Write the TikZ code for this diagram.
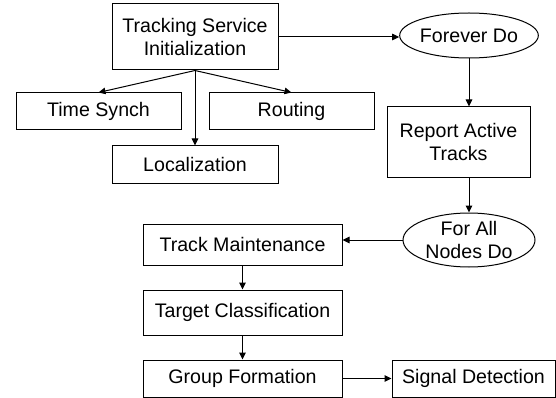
\documentclass[tikz,border=0pt]{standalone}
\usepackage{fontspec}
\setmainfont{Liberation Sans}
\usetikzlibrary{arrows.meta,shapes.geometric}
\begin{document}
\begin{tikzpicture}[x=1pt,y=-1pt,
  every node/.style={font=\fontsize{19.6}{23}\selectfont, inner sep=0pt, align=center},
  box/.style={draw, line width=1pt, rectangle},
  oval/.style={draw, line width=1pt, ellipse},
  arr/.style={line width=1pt, -{Triangle[length=7pt,width=6.5pt]}}]
\useasboundingbox (0,0) rectangle (556,398);
\node[box, minimum width=166pt, minimum height=66pt] (tsi) at (195,37) {Tracking Service\\Initialization};
\node[box, minimum width=165pt, minimum height=37pt] (ts) at (98.5,111.5) {Time Synch};
\node[box, minimum width=165pt, minimum height=37pt] (rt) at (291.5,111.5) {Routing};
\node[box, minimum width=166pt, minimum height=37pt] (loc) at (195,164.5) {Localization};
\node[oval, minimum width=132pt, minimum height=45pt] (fd) at (469,35.5) {Forever Do};
\node[box, minimum width=143pt, minimum height=70pt] (rat) at (458.5,142) {Report Active\\Tracks};
\node[oval, minimum width=132pt, minimum height=54pt] (fand) at (469,240) {For All\\Nodes Do};
\node[box, minimum width=199pt, minimum height=41pt] (tm) at (242.5,244.5) {Track Maintenance};
\node[box, minimum width=199pt, minimum height=45pt] (tc) at (242.5,312.5) {Target Classification};
\node[box, minimum width=199pt, minimum height=37pt] (gf) at (242.5,378.5) {Group Formation};
\node[box, minimum width=163pt, minimum height=37pt] (sd) at (473.5,378.5) {Signal Detection};
\draw[arr] (tsi.south) -- (ts.north);
\draw[arr] (tsi.south) -- (rt.north);
\draw[arr] (tsi.south) -- (loc.north);
\draw[arr] (tsi.east) -- (tsi.east -| fd.west);
\draw[arr] (fd.south) -- (fd.south |- rat.north);
\draw[arr] (fand.north |- rat.south) -- (fand.north);
\draw[arr] (fand.west) -- (fand.west -| tm.east);
\draw[arr] (tm.south) -- (tc.north);
\draw[arr] (tc.south) -- (gf.north);
\draw[arr] (gf.east) -- (sd.west);
\end{tikzpicture}
\end{document}
